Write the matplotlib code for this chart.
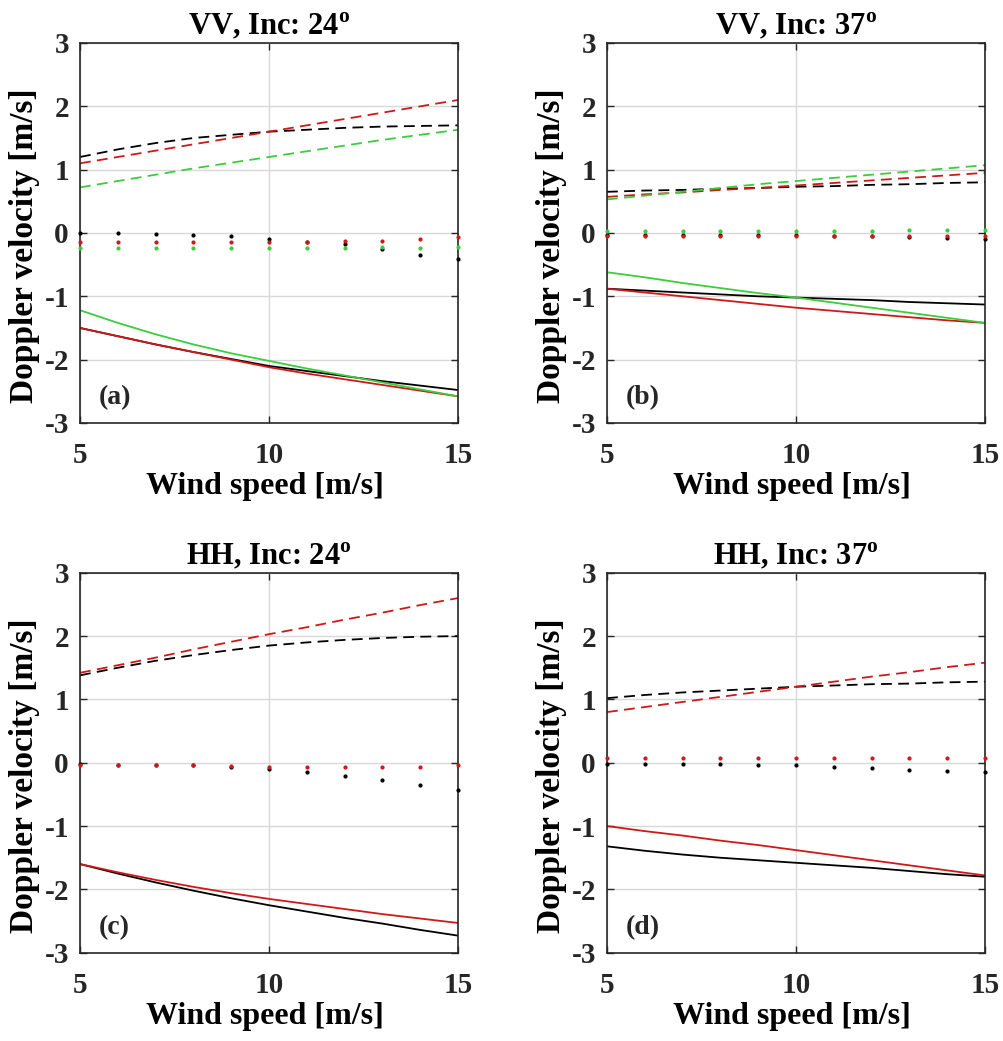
import numpy as np
import matplotlib
matplotlib.use('Agg')
import matplotlib.pyplot as plt

# Times-artige fette Schrift wie im MATLAB-Original
plt.rcParams['font.family'] = 'Liberation Serif'
plt.rcParams['font.weight'] = 'bold'
plt.rcParams['mathtext.fontset'] = 'custom'
plt.rcParams['mathtext.rm'] = 'Liberation Serif:bold'
plt.rcParams['mathtext.bf'] = 'Liberation Serif:bold'
plt.rcParams['axes.unicode_minus'] = False

ws = [5, 6, 7, 8, 9, 10, 11, 12, 13, 14, 15]

# (a) VV, 24 deg
a_blk_dash = [1.20, 1.32, 1.42, 1.50, 1.55, 1.60, 1.63, 1.66, 1.68, 1.69, 1.70]
a_red_dash = [1.10, 1.20, 1.30, 1.40, 1.50, 1.60, 1.70, 1.80, 1.90, 2.00, 2.10]
a_grn_dash = [0.72, 0.82, 0.92, 1.02, 1.11, 1.20, 1.29, 1.38, 1.47, 1.55, 1.63]
a_blk_dot = [0.00, 0.00, -0.01, -0.03, -0.05, -0.09, -0.14, -0.18, -0.26, -0.34, -0.41]
a_red_dot = [-0.15, -0.15, -0.15, -0.15, -0.15, -0.15, -0.14, -0.13, -0.12, -0.10, -0.06]
a_grn_dot = [-0.23, -0.23, -0.23, -0.23, -0.23, -0.23, -0.23, -0.23, -0.22, -0.23, -0.22]
a_blk_sol = [-1.50, -1.63, -1.76, -1.88, -1.99, -2.10, -2.18, -2.26, -2.34, -2.41, -2.48]
a_red_sol = [-1.50, -1.63, -1.76, -1.88, -2.00, -2.12, -2.22, -2.31, -2.40, -2.49, -2.58]
a_grn_sol = [-1.22, -1.42, -1.60, -1.76, -1.90, -2.02, -2.14, -2.25, -2.36, -2.47, -2.58]

# (b) VV, 37 deg
b_blk_dash = [0.65, 0.67, 0.68, 0.70, 0.71, 0.73, 0.74, 0.76, 0.77, 0.79, 0.80]
b_red_dash = [0.57, 0.61, 0.64, 0.68, 0.71, 0.75, 0.79, 0.83, 0.87, 0.91, 0.95]
b_grn_dash = [0.53, 0.59, 0.65, 0.71, 0.77, 0.82, 0.87, 0.92, 0.97, 1.02, 1.07]
b_blk_dot = [-0.03, -0.03, -0.03, -0.03, -0.03, -0.03, -0.04, -0.05, -0.07, -0.08, -0.09]
b_red_dot = [-0.04, -0.04, -0.04, -0.04, -0.04, -0.04, -0.04, -0.04, -0.04, -0.04, -0.04]
b_grn_dot = [0.03, 0.03, 0.03, 0.03, 0.03, 0.03, 0.03, 0.03, 0.04, 0.04, 0.04]
b_blk_sol = [-0.88, -0.91, -0.94, -0.97, -1.00, -1.02, -1.04, -1.06, -1.09, -1.11, -1.13]
b_red_sol = [-0.88, -0.94, -1.00, -1.06, -1.12, -1.18, -1.23, -1.28, -1.33, -1.38, -1.42]
b_grn_sol = [-0.62, -0.70, -0.79, -0.87, -0.95, -1.02, -1.10, -1.18, -1.26, -1.34, -1.42]

# (c) HH, 24 deg
c_blk_dash = [1.38, 1.50, 1.61, 1.70, 1.78, 1.85, 1.90, 1.94, 1.97, 1.99, 2.00]
c_red_dash = [1.42, 1.54, 1.66, 1.79, 1.91, 2.03, 2.14, 2.26, 2.37, 2.49, 2.60]
c_blk_dot = [-0.02, -0.03, -0.03, -0.04, -0.07, -0.10, -0.15, -0.21, -0.27, -0.35, -0.43]
c_red_dot = [-0.03, -0.03, -0.03, -0.04, -0.05, -0.06, -0.06, -0.06, -0.06, -0.06, -0.04]
c_blk_sol = [-1.60, -1.75, -1.89, -2.02, -2.14, -2.25, -2.35, -2.45, -2.54, -2.64, -2.73]
c_red_sol = [-1.60, -1.73, -1.85, -1.96, -2.06, -2.15, -2.23, -2.31, -2.39, -2.46, -2.53]

# (d) HH, 37 deg
d_blk_dash = [1.02, 1.07, 1.11, 1.14, 1.17, 1.20, 1.22, 1.24, 1.25, 1.27, 1.28]
d_red_dash = [0.80, 0.88, 0.96, 1.04, 1.12, 1.20, 1.28, 1.36, 1.43, 1.51, 1.58]
d_blk_dot = [-0.02, -0.02, -0.02, -0.02, -0.03, -0.04, -0.06, -0.09, -0.11, -0.13, -0.15]
d_red_dot = [0.08, 0.08, 0.08, 0.08, 0.08, 0.08, 0.08, 0.08, 0.08, 0.08, 0.08]
d_blk_sol = [-1.32, -1.39, -1.45, -1.50, -1.54, -1.58, -1.62, -1.66, -1.71, -1.76, -1.80]
d_red_sol = [-1.00, -1.08, -1.15, -1.23, -1.30, -1.38, -1.46, -1.54, -1.62, -1.70, -1.78]

titles = ['VV, Inc: 24$^{\\mathrm{o}}$', 'VV, Inc: 37$^{\\mathrm{o}}$',
          'HH, Inc: 24$^{\\mathrm{o}}$', 'HH, Inc: 37$^{\\mathrm{o}}$']
tags = ['(a)', '(b)', '(c)', '(d)']

rot = '#d01818'
gruen = '#3ccc3c'

panels = [
    [(a_blk_dash, 'k', '--'), (a_red_dash, rot, '--'), (a_grn_dash, gruen, '--'),
     (a_blk_dot, 'k', '.'), (a_red_dot, rot, '.'), (a_grn_dot, gruen, '.'),
     (a_blk_sol, 'k', '-'), (a_red_sol, rot, '-'), (a_grn_sol, gruen, '-')],
    [(b_blk_dash, 'k', '--'), (b_red_dash, rot, '--'), (b_grn_dash, gruen, '--'),
     (b_blk_dot, 'k', '.'), (b_red_dot, rot, '.'), (b_grn_dot, gruen, '.'),
     (b_blk_sol, 'k', '-'), (b_red_sol, rot, '-'), (b_grn_sol, gruen, '-')],
    [(c_blk_dash, 'k', '--'), (c_red_dash, rot, '--'),
     (c_blk_dot, 'k', '.'), (c_red_dot, rot, '.'),
     (c_blk_sol, 'k', '-'), (c_red_sol, rot, '-')],
    [(d_blk_dash, 'k', '--'), (d_red_dash, rot, '--'),
     (d_blk_dot, 'k', '.'), (d_red_dot, rot, '.'),
     (d_blk_sol, 'k', '-'), (d_red_sol, rot, '-')],
]

fig = plt.figure(figsize=(10.04, 10.41), dpi=100)
lefts = [0.0797, 0.6046, 0.0797, 0.6046]
bottoms = [0.5937, 0.5937, 0.0848, 0.0848]

for i in range(4):
    ax = fig.add_axes([lefts[i], bottoms[i], 0.3765, 0.365])
    for y, c, ls in panels[i]:
        if ls == '.':
            ax.plot(ws, y, '.', color=c, markersize=4, clip_on=False, zorder=3)
        elif ls == '--':
            ax.plot(ws, y, '--', color=c, linewidth=1.3, dashes=(6, 3.5))
        else:
            ax.plot(ws, y, '-', color=c, linewidth=1.3)
    ax.set_xlim(5, 15)
    ax.set_ylim(-3, 3)
    ax.set_xticks([5, 10, 15])
    ax.set_yticks([-3, -2, -1, 0, 1, 2, 3])
    ax.grid(True, color='#d8d8d8', linewidth=1.0)
    ax.set_axisbelow(True)
    ax.tick_params(direction='in', top=True, right=True, labelsize=21, length=5,
                   width=1.0, colors='#262626', labelcolor='#262626')
    ax.tick_params(axis='x', pad=14)
    ax.tick_params(axis='y', pad=8)
    for s in ax.spines.values():
        s.set_color('#262626')
        s.set_linewidth(1.2)
    ax.set_title(titles[i], fontsize=22, fontweight='bold', pad=6)
    ax.set_xlabel('Wind speed [m/s]', fontsize=23, fontweight='bold')
    ax.set_ylabel('Doppler velocity [m/s]', fontsize=24, fontweight='bold')
    ax.xaxis.set_label_coords(0.49, -0.13)
    ax.yaxis.set_label_coords(-0.105, 0.466)
    ax.text(5.5, -2.6, tags[i], fontsize=20, fontweight='bold', va='center', color='#262626')

plt.savefig('out.png', dpi=100)
